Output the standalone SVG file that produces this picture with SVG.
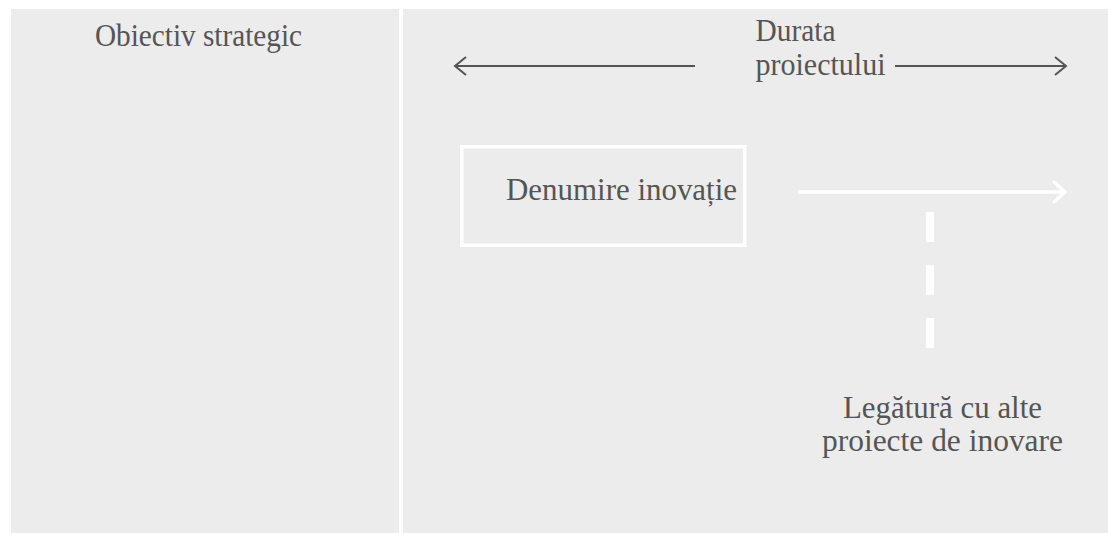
<svg xmlns="http://www.w3.org/2000/svg" width="1108" height="533" viewBox="0 0 1108 533">
  <style>
    .panel { fill: #ececec; }
    .label { font-family: "Liberation Serif", "Times New Roman", serif; font-size: 31px; fill: #555555; }
    .dark-line { stroke: #555555; stroke-width: 2; fill: none; }
    .white-line { stroke: #ffffff; stroke-width: 3.5; fill: none; }
    .frame { fill: none; stroke: #ffffff; stroke-width: 3.5; }
  </style>
  <defs>
    <marker id="chevron-dark" markerUnits="userSpaceOnUse" viewBox="-14 -12 18 24" refX="0" refY="0" markerWidth="18" markerHeight="24" orient="auto" overflow="visible">
      <path d="M-11,-9 L0,0 L-11,9" fill="none" stroke="#555555" stroke-width="2"/>
    </marker>
    <marker id="chevron-white" markerUnits="userSpaceOnUse" viewBox="-16 -14 20 28" refX="0" refY="0" markerWidth="20" markerHeight="28" orient="auto" overflow="visible">
      <path d="M-12,-11 L0,0 L-12,11" fill="none" stroke="#ffffff" stroke-width="3.5"/>
    </marker>
  </defs>

  <rect width="1108" height="533" fill="#ffffff"/>

  <!-- two background columns -->
  <rect class="panel" x="11" y="9" width="388" height="524"/>
  <rect class="panel" x="403" y="9" width="705" height="524"/>

  <g id="objective">
    <text class="label" x="95" y="46" textLength="207" lengthAdjust="spacingAndGlyphs">Obiectiv strategic</text>
  </g>

  <g id="duration">
    <text class="label" x="755.5" y="41" textLength="80" lengthAdjust="spacingAndGlyphs">Durata</text>
    <text class="label" x="755.5" y="75" textLength="130" lengthAdjust="spacingAndGlyphs">proiectului</text>
  </g>

  <g id="innovation">
    <rect class="frame" x="461.8" y="146.8" width="283" height="98.5"/>
    <text class="label" x="506" y="200" textLength="231" lengthAdjust="spacingAndGlyphs">Denumire inovație</text>
  </g>

  <g id="related-projects">
    <text class="label" x="843" y="418" textLength="199" lengthAdjust="spacingAndGlyphs">Legătură cu alte</text>
    <text class="label" x="822" y="451" textLength="241" lengthAdjust="spacingAndGlyphs">proiecte de inovare</text>
  </g>

  <g id="connectors">
    <line class="dark-line" x1="695" y1="66" x2="455" y2="66" marker-end="url(#chevron-dark)"/>
    <line class="dark-line" x1="895" y1="66" x2="1066" y2="66" marker-end="url(#chevron-dark)"/>
    <line class="white-line" x1="798" y1="192" x2="1065" y2="192" marker-end="url(#chevron-white)"/>
    <line x1="930" y1="212" x2="930" y2="348" stroke="#ffffff" stroke-width="8" stroke-dasharray="30 23"/>
  </g>
</svg>
